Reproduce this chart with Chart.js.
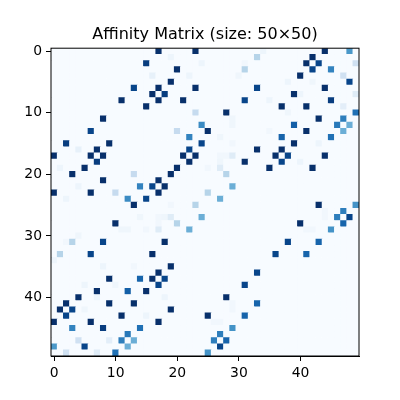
<!DOCTYPE html>
<html>
<head>
<meta charset="utf-8">
<script src="https://cdn.jsdelivr.net/npm/chart.js@4.4.1/dist/chart.umd.min.js"></script>
<style>
  html, body { margin: 0; padding: 0; background: #fff; }
</style>
</head>
<body>
<canvas id="affinity" width="400" height="400"></canvas>
<script>
const SIZE = 50
const tickValues = [0, 10, 20, 30, 40]
const titleText = 'Affinity Matrix (size: 50×50)'

// upper triangle entries, the matrix is symmetric
const cellRows = [
    0,0,0,0,0,
    1,1,1,
    2,2,2,2,2,2,
    3,3,3,3,
    4,4,4,4,4,
    5,5,5,5,
    6,6,6,6,6,
    7,7,7,7,7,
    8,8,8,8,8,8,
    9,9,9,9,
    10,10,10,10,
    11,11,11,
    12,12,12,12,12,
    13,13,13,13,13,
    14,14,14,14,
    15,15,15,15,
    16,16,16,
    17,17,17,17,17,17,17,17,
    18,18,18,18,18,
    19,19,19,19,19,
    20,22,23,24,
    25,25,
    26,26,
    27,27,27,
    28,28,
    29,29,29,
    31,31,
    33,33
]
const cellCols = [
    17,23,34,44,48,
    19,33,42,
    15,24,31,41,43,49,
    20,31,42,45,
    16,22,30,40,47,
    19,38,42,48,
    13,17,23,33,44,
    16,18,39,40,49,
    11,17,21,31,35,45,
    15,37,41,47,
    23,28,38,49,
    29,43,47,
    24,29,39,46,48,
    20,25,35,41,47,
    22,27,37,45,
    24,29,39,43,
    22,33,37,
    21,23,27,28,29,36,38,44,
    22,27,31,37,40,
    20,25,27,35,42,
    28,29,25,27,
    43,49,
    44,47,
    44,46,48,
    40,47,
    41,42,45,
    38,43,
    36,41
]
const cellValues = [
    1,1,0.05,1,0.6,
    0.05,0.3,1,
    0.95,0.05,0.03,1,0.92,0.2,
    1,0.3,0.92,0.68,
    0.08,0.05,0.04,1,0.2,
    1,0.05,0.04,0.92,
    0.92,1,1,0.92,1,
    1,0.95,1,0.05,0.12,
    1,1,1,0.92,0.05,0.95,
    1,1,1,0.1,
    0.25,1,0.04,0.75,
    0.04,1,0.7,
    0.65,0.04,0.82,0.72,0.5,
    0.25,1,0.03,1,0.5,
    0.68,0.04,0.8,0.75,
    0.92,0.03,1,0.05,
    0.92,1,1,
    1,1,0.03,0.03,0.12,1,0.92,1,
    1,0.04,1,0.92,0.05,
    1,0.03,0.12,1,1,
    0.3,0.5,0.3,0.5,
    1,0.62,
    0.03,0.7,
    0.03,0.7,0.92,
    1,0.8,
    0.03,0.03,0.62,
    0.92,0.8,
    0.92,0.8
]

// matplotlib "Blues"
const bluesStops = ['#f7fbff','#deebf7','#c6dbef','#9ecae1','#6baed6','#4292c6','#2171b5','#08519c','#08306b']

const hexToRgb = (h) => [1, 3, 5].map(i => parseInt(h.slice(i, i + 2), 16))

const blues = (v) => {
    const t = Math.min(Math.max(v, 0), 1) * (bluesStops.length - 1)
    const i = Math.min(Math.floor(t), bluesStops.length - 2)
    const f = t - i
    const a = hexToRgb(bluesStops[i]), b = hexToRgb(bluesStops[i + 1])
    const c = a.map((x, k) => Math.round(x + (b[k] - x) * f))
    return `rgb(${c[0]},${c[1]},${c[2]})`
}

// full symmetric matrix
const matrix = []
for (let r = 0; r < SIZE; r++) matrix.push(new Array(SIZE).fill(0))
cellRows.forEach((r, i) => {
    matrix[r][cellCols[i]] = cellValues[i]
    matrix[cellCols[i]][r] = cellValues[i]
})

const points = []
matrix.forEach((row, r) => row.forEach((v, c) => points.push({ x: c, y: r, v: v })))

const cellRadius = (chart) => {
    const sx = chart.scales.x
    if (!sx) return 3
    const w = Math.abs(sx.getPixelForValue(1) - sx.getPixelForValue(0))
    return (w + 0.6) / Math.SQRT2
}

const frame = {
    id: 'frame',
    afterDraw(chart) {
        const { ctx, chartArea: a } = chart
        ctx.save()
        ctx.strokeStyle = '#000'
        ctx.lineWidth = 1
        ctx.strokeRect(a.left, a.top, a.right - a.left, a.bottom - a.top)
        ctx.restore()
    }
}

const tickFont = { family: 'DejaVu Sans', size: 13.9 }

new Chart('affinity', {
    type: 'scatter',
    data: {
        datasets: [{
            data: points,
            pointStyle: 'rect',
            pointRadius: (ctx) => cellRadius(ctx.chart),
            pointHoverRadius: (ctx) => cellRadius(ctx.chart),
            backgroundColor: (ctx) => blues(ctx.raw ? ctx.raw.v : 0),
            borderWidth: 0
        }]
    },
    options: {
        responsive: false,
        animation: false,
        events: [],
        layout: { padding: { left: 0, right: 41, top: 0, bottom: 0 } },
        plugins: {
            legend: { display: false },
            tooltip: { enabled: false },
            title: {
                display: true,
                fullSize: false,
                text: titleText,
                color: '#000',
                font: { family: 'DejaVu Sans', size: 16, weight: 'normal', lineHeight: 1.2 },
                padding: { top: 25, bottom: 4 }
            }
        },
        scales: {
            x: {
                type: 'linear',
                min: -0.5,
                max: SIZE - 0.5,
                afterBuildTicks: (s) => { s.ticks = tickValues.map(v => ({ value: v })) },
                afterFit: (s) => { s.height = 44 },
                ticks: { color: '#000', font: tickFont, padding: 4, maxRotation: 0, autoSkip: false },
                grid: { drawOnChartArea: false, drawTicks: true, tickLength: 5, color: '#000' },
                border: { color: '#000' }
            },
            y: {
                type: 'linear',
                reverse: true,
                min: -0.5,
                max: SIZE - 0.5,
                afterBuildTicks: (s) => { s.ticks = tickValues.map(v => ({ value: v })) },
                afterFit: (s) => { s.width = 51 },
                ticks: { color: '#000', font: tickFont, padding: 4, autoSkip: false },
                grid: { drawOnChartArea: false, drawTicks: true, tickLength: 5, color: '#000' },
                border: { color: '#000' }
            }
        }
    },
    plugins: [frame]
})
</script>
</body>
</html>
